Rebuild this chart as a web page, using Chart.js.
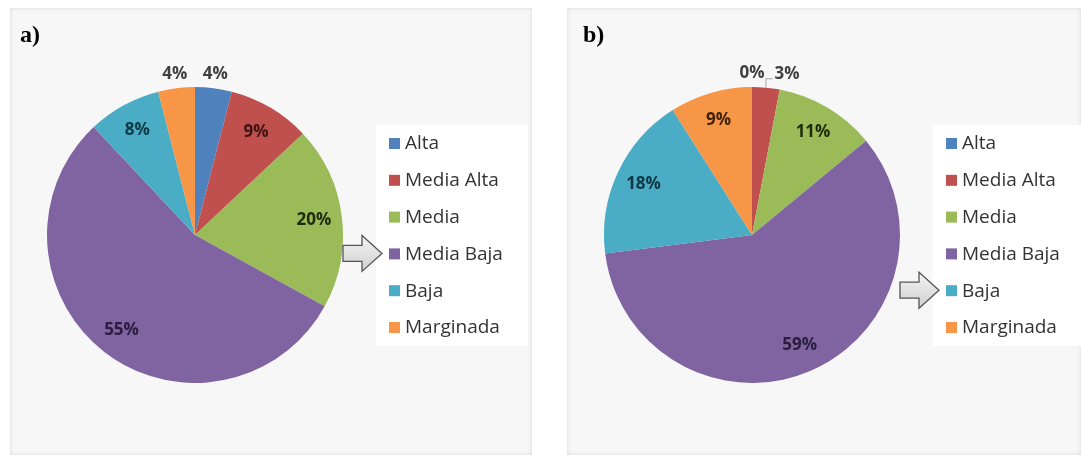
<!DOCTYPE html>
<html>
<head>
<meta charset="utf-8">
<script src="https://cdn.jsdelivr.net/npm/chart.js@4.4.1/dist/chart.umd.min.js"></script>
<style>
    body { margin: 0; background: #ffffff; width: 1081px; height: 455px; overflow: hidden; position: relative; }
    .panel { position: absolute; top: 8px; height: 447px; background: #f7f7f7; box-shadow: inset 0 0 4px #d6d6d6; }
    #panelA { left: 10px; width: 522px; }
    #panelB { left: 567px; width: 514px; }
    .tag { position: absolute; top: 14px; font: bold 24px "Liberation Serif", "Times New Roman", serif; line-height: 1; color: #000; z-index: 2; }
    canvas { position: absolute; left: 0; top: 0; }
</style>
</head>
<body>
<div class="panel" id="panelA">
    <canvas id="chartA" width="522" height="447"></canvas>
    <div class="tag" style="left:10px">a)</div>
</div>
<div class="panel" id="panelB">
    <canvas id="chartB" width="514" height="447"></canvas>
    <div class="tag" style="left:16px">b)</div>
</div>

<script>
// Datos de las dos gráficas
const categories = ['Alta', 'Media Alta', 'Media', 'Media Baja', 'Baja', 'Marginada'];
const valuesA = [4, 9, 20, 55, 8, 4];
const valuesB = [0, 3, 11, 59, 18, 9];

// Colores (paleta Office)
const sliceColors = ['#4F81BD', '#C0504D', '#9BBB59', '#8064A2', '#4BACC6', '#F79646'];
const labelInk = ['#1c2c44', '#3d1412', '#1e2b0b', '#2a1d3e', '#0e3843', '#3f2208'];

// Etiquetas, leyenda y flecha
const decorPlugin = {
    id: 'decor',
    afterDatasetsDraw(chart, args, opts) {
        const ctx = chart.ctx;
        const values = chart.data.datasets[0].data;
        const colors = chart.data.datasets[0].backgroundColor;
        const total = values.reduce((s, v) => s + v, 0);
        const arcs = chart.getDatasetMeta(0).data;

        ctx.save();
        ctx.font = 'bold 17px "Open Sans", sans-serif';
        ctx.textAlign = 'center';
        ctx.textBaseline = 'middle';

        const placed = [];
        arcs.forEach((arc, i) => {
            const p = arc.getProps(['x', 'y', 'startAngle', 'endAngle', 'outerRadius'], true);
            const mid = (p.startAngle + p.endAngle) / 2;
            const pct = values[i] / total * 100;
            const text = values[i] + '%';
            const w = ctx.measureText(text).width;
            if (pct < 5) {
                const rr = p.outerRadius + 14;
                let lx = p.x + Math.cos(mid) * rr;
                const ly = p.y + Math.sin(mid) * rr;
                let moved = false;
                placed.forEach(b => {
                    if (Math.abs(b.y - ly) < 16 && lx - w / 2 < b.x + b.w / 2 + 4 && lx + w / 2 > b.x - b.w / 2 - 4) {
                        lx = b.x + b.w / 2 + 10 + w / 2;
                        moved = true;
                    }
                });
                if (moved) {
                    const ex = p.x + Math.cos(mid) * p.outerRadius;
                    const ey = p.y + Math.sin(mid) * p.outerRadius;
                    ctx.strokeStyle = '#a6a6a6';
                    ctx.lineWidth = 1;
                    ctx.beginPath();
                    ctx.moveTo(ex, ey);
                    ctx.lineTo(ex, ly + 5);
                    ctx.lineTo(lx - w / 2 - 2, ly + 5);
                    ctx.stroke();
                }
                placed.push({ x: lx, y: ly, w: w });
                ctx.fillStyle = '#404040';
                ctx.fillText(text, lx, ly);
            } else {
                const rr = p.outerRadius * 0.81;
                ctx.fillStyle = labelInk[i];
                ctx.fillText(text, p.x + Math.cos(mid) * rr, p.y + Math.sin(mid) * rr);
            }
        });

        // caja blanca de la leyenda
        const lg = opts.legend;
        ctx.fillStyle = '#ffffff';
        ctx.fillRect(lg.boxLeft, lg.boxTop, lg.boxRight - lg.boxLeft, lg.boxBottom - lg.boxTop);

        ctx.font = '19px "Open Sans", sans-serif';
        ctx.textAlign = 'left';
        chart.data.labels.forEach((lab, i) => {
            const y = lg.top + i * lg.step;
            ctx.fillStyle = colors[i];
            ctx.fillRect(lg.x, y - 5, 11, 11);
            ctx.fillStyle = '#333333';
            ctx.fillText(lab, lg.x + 16, y + 1);
        });

        // flecha hacia la categoría señalada
        const k = chart.data.labels.indexOf(opts.arrowTo);
        const cy = lg.top + k * lg.step;
        const tip = lg.x - 7, hs = tip - 20, bl = hs - 19;
        const grad = ctx.createLinearGradient(0, cy - 18, 0, cy + 18);
        grad.addColorStop(0, '#f4f4f4');
        grad.addColorStop(1, '#cfcfcf');
        ctx.beginPath();
        ctx.moveTo(bl, cy - 8);
        ctx.lineTo(hs, cy - 8);
        ctx.lineTo(hs, cy - 18);
        ctx.lineTo(tip, cy);
        ctx.lineTo(hs, cy + 18);
        ctx.lineTo(hs, cy + 8);
        ctx.lineTo(bl, cy + 8);
        ctx.closePath();
        ctx.fillStyle = grad;
        ctx.fill();
        ctx.strokeStyle = '#555555';
        ctx.lineWidth = 1.3;
        ctx.stroke();
        ctx.restore();
    }
};

function makePie(canvasId, values, arrowTo, rightPad, boxRight) {
    const ctx = document.getElementById(canvasId).getContext('2d');
    return new Chart(ctx, {
        type: 'pie',
        data: {
            labels: categories,
            datasets: [{
                data: values,
                backgroundColor: sliceColors,
                borderWidth: 0,
                hoverOffset: 0
            }]
        },
        options: {
            responsive: false,
            animation: false,
            events: [],
            layout: { padding: { left: 37, top: 79, right: rightPad, bottom: 72 } },
            plugins: {
                legend: { display: false },
                tooltip: { enabled: false },
                decor: {
                    arrowTo: arrowTo,
                    legend: { x: 379, top: 135, step: 36.8, boxLeft: 366, boxTop: 117, boxRight: boxRight, boxBottom: 338 }
                }
            }
        },
        plugins: [decorPlugin]
    });
}

makePie('chartA', valuesA, 'Media Baja', 189, 518);
makePie('chartB', valuesB, 'Baja', 181, 514);
</script>
</body>
</html>
